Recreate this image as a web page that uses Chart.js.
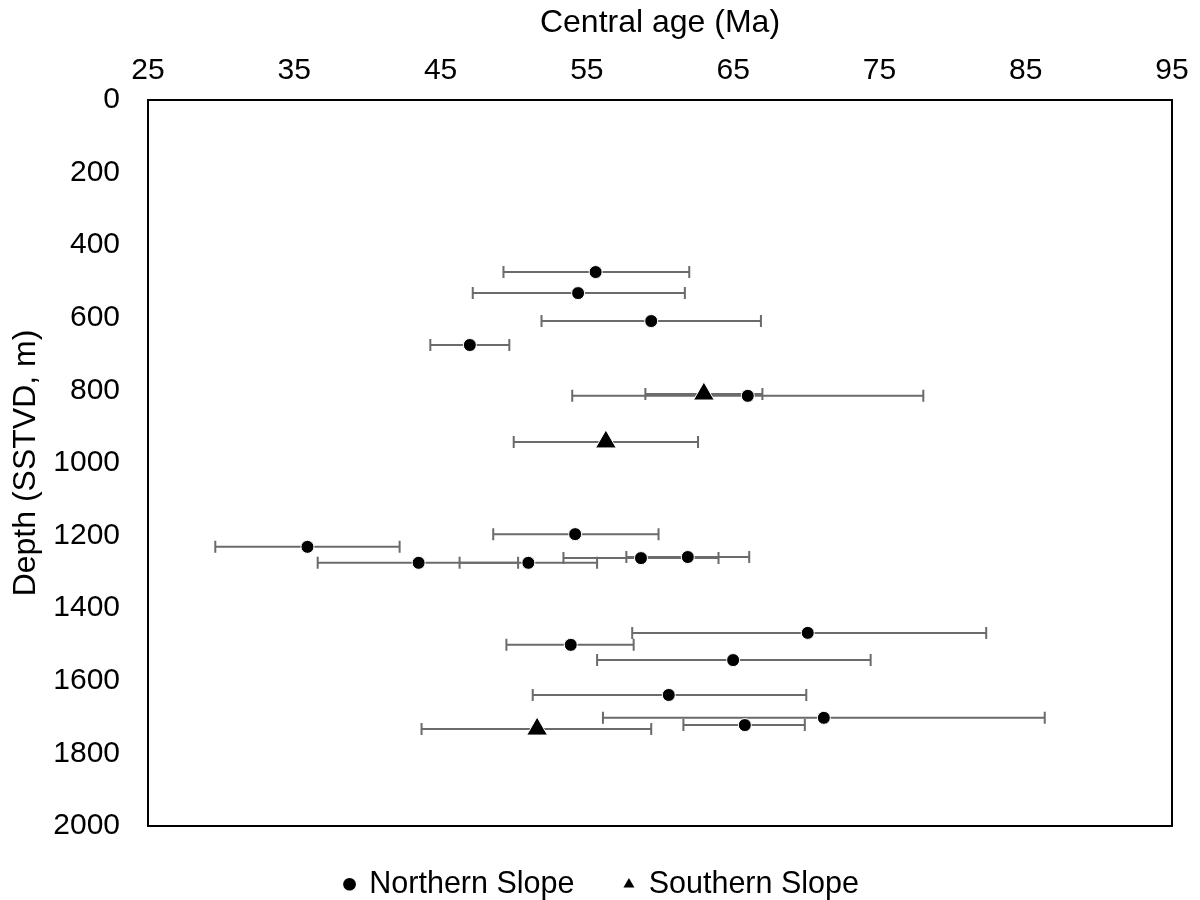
<!DOCTYPE html>
<html>
<head>
<title>Central age vs depth</title>
<style>
body { margin: 0; background: #fff; }
#wrap { width: 1200px; height: 900px; }
</style>
</head>
<body>
<div id="wrap"><canvas id="chart" width="1200" height="900"></canvas></div>
<script src="https://cdn.jsdelivr.net/npm/chart.js@4"></script>
<script>
// Northern slope samples: central age (Ma), depth (m), age range for error bars
var northAge   = [55.6, 54.4, 59.4, 47.0, 66.0, 54.2, 35.9, 43.5, 51.0, 58.7, 61.9, 70.1, 53.9, 65.0, 60.6, 71.2, 65.8];
var northDepth = [474, 532, 609, 675, 815, 1196, 1231, 1275, 1275, 1262, 1259, 1468, 1501, 1543, 1639, 1702, 1722];
var northMin   = [49.3, 47.2, 51.9, 44.3, 54.0, 48.6, 29.6, 36.6, 46.3, 53.4, 57.7, 58.1, 49.5, 55.7, 51.3, 56.1, 61.6];
var northMax   = [62.0, 61.7, 66.9, 49.7, 78.0, 59.9, 42.2, 50.3, 55.7, 64.0, 66.1, 82.3, 58.2, 74.4, 70.0, 86.3, 69.9];

// Southern slope samples
var southAge   = [63.0, 56.3, 51.6];
var southDepth = [810, 942, 1733];
var southMin   = [59.0, 50.0, 43.7];
var southMax   = [67.0, 62.6, 59.4];

var ageTicks = [25, 35, 45, 55, 65, 75, 85, 95];
var depthTicks = [0, 200, 400, 600, 800, 1000, 1200, 1400, 1600, 1800, 2000];

function toPoints(xs, ys, lo, hi) {
	var pts = [];
	for (var i = 0; i < xs.length; i++) {
		pts.push({x: xs[i], y: ys[i], xMin: lo[i], xMax: hi[i]});
	}
	return pts;
}

var FONT = '"Liberation Sans", Arial, sans-serif';

// horizontal error bars drawn under the markers, plus the plot frame
var errorBars = {
	id: 'errorBars',
	afterLayout: function(chart) {
		// nudge the legend row up and right to sit like the original
		chart.legend.top -= 7;
		chart.legend.left += 16;
		chart.legend.right += 16;
	},
	beforeDatasetsDraw: function(chart) {
		var ctx = chart.ctx;
		var xs = chart.scales.x, ys = chart.scales.y;
		ctx.save();
		ctx.strokeStyle = '#6b6b6b';
		ctx.lineWidth = 2;
		chart.data.datasets.forEach(function(ds) {
			ds.data.forEach(function(p) {
				var y = ys.getPixelForValue(p.y);
				var a = xs.getPixelForValue(p.xMin);
				var b = xs.getPixelForValue(p.xMax);
				ctx.beginPath();
				ctx.moveTo(a, y); ctx.lineTo(b, y);
				ctx.moveTo(a, y - 6); ctx.lineTo(a, y + 6);
				ctx.moveTo(b, y - 6); ctx.lineTo(b, y + 6);
				ctx.stroke();
			});
		});
		ctx.restore();
	},
	afterDraw: function(chart) {
		var c = chart.chartArea, ctx = chart.ctx;
		ctx.save();
		ctx.strokeStyle = '#000';
		ctx.lineWidth = 2;
		ctx.strokeRect(c.left, c.top, c.right - c.left, c.bottom - c.top);
		ctx.restore();
	}
};

new Chart(document.getElementById('chart'), {
	type: 'scatter',
	data: {
		datasets: [{
			label: 'Northern Slope',
			data: toPoints(northAge, northDepth, northMin, northMax),
			pointStyle: 'circle',
			pointRadius: 6.5,
			pointBorderWidth: 1,
			backgroundColor: '#000',
			borderColor: '#fff'
		}, {
			label: 'Southern Slope',
			data: toPoints(southAge, southDepth, southMin, southMax),
			pointStyle: 'triangle',
			pointRadius: 12,
			pointBorderWidth: 1,
			backgroundColor: '#000',
			borderColor: '#fff'
		}]
	},
	options: {
		responsive: false,
		animation: false,
		layout: { padding: { left: 0, right: 28, top: 0, bottom: 0 } },
		plugins: {
			tooltip: { enabled: false },
			legend: {
				position: 'bottom',
				maxHeight: 74,
				labels: {
					usePointStyle: true,
					boxWidth: 9,
					boxHeight: 9,
					padding: 50,
					color: '#000',
					font: { family: FONT, size: 30.5 },
					generateLabels: function(chart) {
						return chart.data.datasets.map(function(ds, i) {
							return {
								text: ds.label,
								fillStyle: '#000',
								strokeStyle: '#000',
								lineWidth: 0,
								pointStyle: ds.pointStyle,
								datasetIndex: i,
								fontColor: '#000'
							};
						});
					}
				}
			}
		},
		scales: {
			x: {
				type: 'linear',
				position: 'top',
				min: 25,
				max: 95,
				afterBuildTicks: function(scale) {
					scale.ticks = ageTicks.map(function(v) { return {value: v}; });
				},
				afterFit: function(scale) {
					scale.height = 100;
					scale.paddingLeft = 0;
					scale.paddingRight = 0;
				},
				grid: { display: false, drawTicks: false },
				border: { display: false },
				ticks: { color: '#000', padding: 11, font: { family: FONT, size: 30 } },
				title: { display: true, text: 'Central age (Ma)', color: '#000', padding: {top: 4, bottom: 4}, font: { family: FONT, size: 32 } }
			},
			y: {
				type: 'linear',
				reverse: true,
				min: 0,
				max: 2000,
				afterBuildTicks: function(scale) {
					scale.ticks = depthTicks.map(function(v) { return {value: v}; });
				},
				afterFit: function(scale) { scale.width = 148; },
				grid: { display: false, drawTicks: false },
				border: { display: false },
				ticks: {
					color: '#000',
					padding: 28,
					font: { family: FONT, size: 30 },
					callback: function(v) { return String(v); }
				},
				title: { display: true, text: 'Depth (SSTVD, m)', color: '#000', padding: {top: 7, bottom: 4}, font: { family: FONT, size: 32 } }
			}
		}
	},
	plugins: [errorBars]
});
</script>
</body>
</html>
